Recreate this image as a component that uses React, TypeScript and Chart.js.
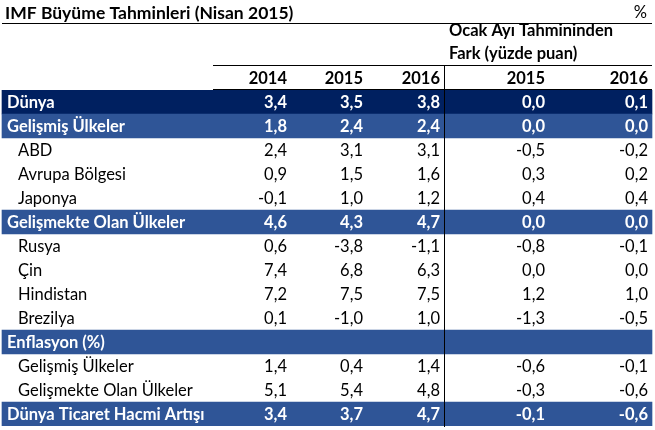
import React, { useEffect, useRef } from "react";
import { Chart, registerables } from "chart.js";

Chart.register(...registerables);

const title = "IMF Büyüme Tahminleri (Nisan 2015)";
const unitLabel = "%";
const diffHeader = ["Ocak Ayı Tahmininden", "Fark (yüzde puan)"];
const columnHeaders = ["2014", "2015", "2016", "2015", "2016"];

const rowLabels = [
  "Dünya",
  "Gelişmiş Ülkeler",
  "ABD",
  "Avrupa Bölgesi",
  "Japonya",
  "Gelişmekte Olan Ülkeler",
  "Rusya",
  "Çin",
  "Hindistan",
  "Brezilya",
  "Enflasyon (%)",
  "Gelişmiş Ülkeler",
  "Gelişmekte Olan Ülkeler",
  "Dünya Ticaret Hacmi Artışı",
];
// total = dark band, group = blue band, item = plain indented row
const rowKinds = [
  "total", "group", "item", "item", "item", "group", "item", "item", "item", "item", "group", "item", "item", "group",
];

const values2014 = [3.4, 1.8, 2.4, 0.9, -0.1, 4.6, 0.6, 7.4, 7.2, 0.1, null, 1.4, 5.1, 3.4];
const values2015 = [3.5, 2.4, 3.1, 1.5, 1.0, 4.3, -3.8, 6.8, 7.5, -1.0, null, 0.4, 5.4, 3.7];
const values2016 = [3.8, 2.4, 3.1, 1.6, 1.2, 4.7, -1.1, 6.3, 7.5, 1.0, null, 1.4, 4.8, 4.7];
const diff2015 = [0.0, 0.0, -0.5, 0.3, 0.4, 0.0, -0.8, 0.0, 1.2, -1.3, null, -0.6, -0.3, -0.1];
const diff2016 = [0.1, 0.0, -0.2, 0.2, 0.4, 0.0, -0.1, 0.0, 1.0, -0.5, null, -0.1, -0.6, -0.6];

const columns = [values2014, values2015, values2016, diff2015, diff2016];

// layout (x in pixel units of the linear x scale)
const W = 655;
const H = 430;
const colRight = [287, 363, 440, 545, 648];
const tableLeft = 2;
const tableRight = 652;
const headLineLeft = 213;
const dividerX = 444;
const FONT = "Lato, 'Noto Sans', sans-serif";
const FS = 16.5;

const DARK = "#002060";
const BLUE = "#2F5597";

const fmt = (v: number) => v.toFixed(1).replace(".", ",").replace("-0,0", "0,0");

const tablePlugin = {
  id: "tablePlugin",
  afterDatasetsDraw(chart: any) {
    const ctx = chart.ctx as CanvasRenderingContext2D;
    const xs = chart.scales.x;
    const ys = chart.scales.y;
    const X = (v: number) => xs.getPixelForValue(v);
    const rowH = Math.abs(ys.getPixelForValue(1) - ys.getPixelForValue(0));
    const top = ys.getPixelForValue(0) - rowH / 2;
    const bottom = ys.getPixelForValue(rowLabels.length - 1) + rowH / 2;
    ctx.save();

    // title
    ctx.fillStyle = "#000";
    ctx.textBaseline = "middle";
    ctx.textAlign = "left";
    ctx.font = `bold 17.5px ${FONT}`;
    ctx.fillText(title, X(5), 13);
    ctx.textAlign = "right";
    ctx.font = `${FS}px ${FONT}`;
    ctx.fillText(unitLabel, X(647), 13);

    // lines
    ctx.strokeStyle = "#000";
    ctx.lineWidth = 1;
    ctx.beginPath();
    ctx.moveTo(X(tableLeft), 23.5);
    ctx.lineTo(X(tableRight), 23.5);
    ctx.moveTo(X(headLineLeft), 65.5);
    ctx.lineTo(X(tableRight), 65.5);
    ctx.moveTo(X(headLineLeft), top - 0.5);
    ctx.lineTo(X(tableRight), top - 0.5);
    ctx.stroke();

    // diff header
    ctx.textAlign = "left";
    ctx.font = `bold ${FS}px ${FONT}`;
    ctx.fillText(diffHeader[0], X(449), 31);
    ctx.fillText(diffHeader[1], X(449), 54);

    // column headers
    ctx.textAlign = "right";
    columnHeaders.forEach((h, c) => ctx.fillText(h, X(colRight[c]), 79));

    // rows
    rowLabels.forEach((label, i) => {
      const y = ys.getPixelForValue(i) + 1;
      const kind = rowKinds[i];
      const band = kind !== "item";
      ctx.fillStyle = band ? "#fff" : "#000";
      ctx.font = `${band ? "bold " : ""}${FS}px ${FONT}`;
      ctx.textAlign = "left";
      ctx.fillText(label, X(band ? 7 : 18), y);
      ctx.textAlign = "right";
      columns.forEach((col, c) => {
        const v = col[i];
        if (v === null || v === undefined) return;
        ctx.fillText(fmt(v), X(colRight[c]), y);
      });
    });

    // vertical divider
    ctx.strokeStyle = "#000";
    ctx.beginPath();
    ctx.moveTo(Math.round(X(dividerX)) + 0.5, 65);
    ctx.lineTo(Math.round(X(dividerX)) + 0.5, bottom + 1);
    ctx.stroke();
    ctx.restore();
  },
};

export default function App() {
  const ref = useRef<HTMLCanvasElement | null>(null);
  useEffect(() => {
    if (!ref.current) return;
    const chart = new Chart(ref.current, {
      type: "bar",
      data: {
        labels: rowLabels,
        datasets: [
          {
            label: "bands",
            data: rowKinds.map((k) => (k === "item" ? null : [tableLeft, tableRight])) as any,
            backgroundColor: rowKinds.map((k) => (k === "total" ? DARK : BLUE)),
            borderWidth: 0,
            barPercentage: 1,
            categoryPercentage: 1,
          },
        ],
      },
      options: {
        indexAxis: "y",
        animation: false,
        responsive: true,
        maintainAspectRatio: false,
        layout: { padding: { top: 90, bottom: 4, left: 0, right: 0 } },
        plugins: { legend: { display: false }, tooltip: { enabled: false }, title: { display: false } },
        scales: {
          x: { type: "linear", min: 0, max: W, display: false },
          y: { type: "category", display: false, offset: true },
        },
      },
      plugins: [tablePlugin],
    });
    return () => chart.destroy();
  }, []);
  return (
    <div style={{ position: "fixed", left: 0, top: 0, width: W, height: H, background: "#fff" }}>
      <canvas ref={ref} />
    </div>
  );
}
